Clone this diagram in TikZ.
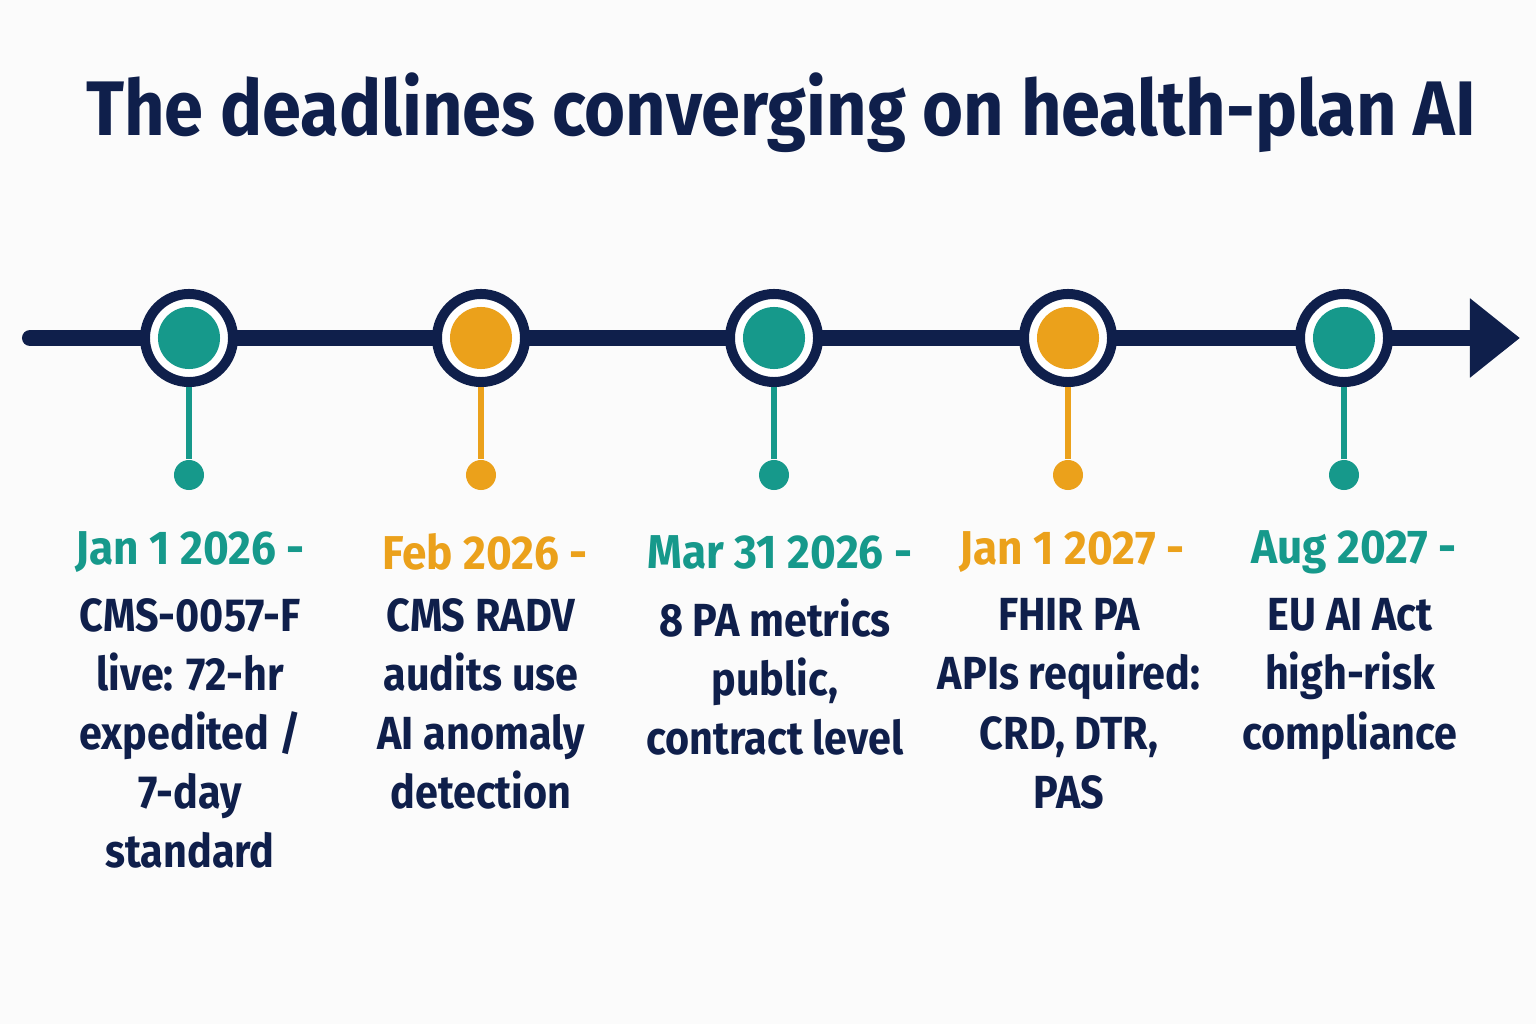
\documentclass[tikz,border=0pt]{standalone}
\usepackage{fontspec}
\setmainfont{Fira Sans}
\newfontfamily\titlefont{Fira Sans}[FakeStretch=0.91]
\newfontfamily\datefont{Fira Sans}[FakeStretch=0.93]
\newfontfamily\bodyfont{Fira Sans}[FakeStretch=0.89]
\usepackage{tikz}
\usetikzlibrary{arrows.meta,positioning}

\definecolor{navy}{HTML}{0F1F4B}
\definecolor{tealc}{HTML}{16998B}
\definecolor{orangec}{HTML}{EBA11B}
\definecolor{paper}{HTML}{FBFBFB}

\begin{document}
\begin{tikzpicture}[x=0.01cm, y=-0.01cm, node distance=0.1cm and 0cm,
	ring/.style={circle, draw=navy, line width=0.1cm, fill=white, minimum size=0.88cm, inner sep=0pt},
	core/.style={circle, fill=#1, minimum size=0.62cm, inner sep=0pt},
	tip/.style={circle, fill=#1, minimum size=0.3cm, inner sep=0pt},
	stem/.style={#1, line width=0.06cm},
	datetext/.style={text=#1, font=\datefont\bfseries\fontsize{13.5}{16}\selectfont, inner sep=0pt},
	bodytext/.style={text=navy, align=center, font=\bodyfont\bfseries\fontsize{13.2}{16.8}\selectfont, inner sep=0pt}]
	% page
	\fill [paper] (0,0) rectangle (1536,1024);
	\useasboundingbox (0,0) rectangle (1536,1024);
	% title
	\node [](title_node) at (781,113) {\titlefont\bfseries\color{navy}\fontsize{22}{26}\selectfont The deadlines converging on health-plan AI};
	% time axis
	\coordinate (axis_start) at (30,338);
	\coordinate (axis_end) at (1520,338);
	\draw [navy, line width=0.16cm, line cap=round, -{Triangle[length=0.5cm, width=0.76cm]}] (axis_start) -- (axis_end);
	% milestones
	\node [ring](jan26_node) at (189,338) {};
	\node [ring](feb26_node) at (481,338) {};
	\node [ring](mar26_node) at (774,338) {};
	\node [ring](jan27_node) at (1068,338) {};
	\node [ring](aug27_node) at (1344,338) {};
	\node [core=tealc] at (jan26_node) {};
	\node [core=orangec] at (feb26_node) {};
	\node [core=tealc] at (mar26_node) {};
	\node [core=orangec] at (jan27_node) {};
	\node [core=tealc] at (aug27_node) {};
	% stems
	\node [tip=tealc](jan26_tip) at (189,475) {};
	\node [tip=orangec](feb26_tip) at (481,475) {};
	\node [tip=tealc](mar26_tip) at (774,475) {};
	\node [tip=orangec](jan27_tip) at (1068,475) {};
	\node [tip=tealc](aug27_tip) at (1344,475) {};
	\draw [stem=tealc] (jan26_node) -- (jan26_tip);
	\draw [stem=orangec] (feb26_node) -- (feb26_tip);
	\draw [stem=tealc] (mar26_node) -- (mar26_tip);
	\draw [stem=orangec] (jan27_node) -- (jan27_tip);
	\draw [stem=tealc] (aug27_node) -- (aug27_tip);
	% labels
	\node [datetext=tealc](jan26_date) at (190,552) {Jan 1 2026 -};
	\node [datetext=orangec](feb26_date) at (485,552) {Feb 2026 -};
	\node [datetext=tealc](mar26_date) at (780,552) {Mar 31 2026 -};
	\node [datetext=orangec](jan27_date) at (1072,552) {Jan 1 2027 -};
	\node [datetext=tealc](aug27_date) at (1354,552) {Aug 2027 -};
	\node [bodytext, anchor=north](jan26_text) at (190,598) {CMS-0057-F\\live: 72-hr\\expedited /\\7-day\\standard};
	\node [bodytext, anchor=north](feb26_text) at (481,598) {CMS RADV\\audits use\\AI anomaly\\detection};
	\node [bodytext, anchor=north](mar26_text) at (775,598) {8 PA metrics\\public,\\contract level};
	\node [bodytext, anchor=north](jan27_text) at (1069,598) {FHIR PA\\APIs required:\\CRD, DTR,\\PAS};
	\node [bodytext, anchor=north](aug27_text) at (1350,598) {EU AI Act\\high-risk\\compliance};
\end{tikzpicture}
\end{document}
